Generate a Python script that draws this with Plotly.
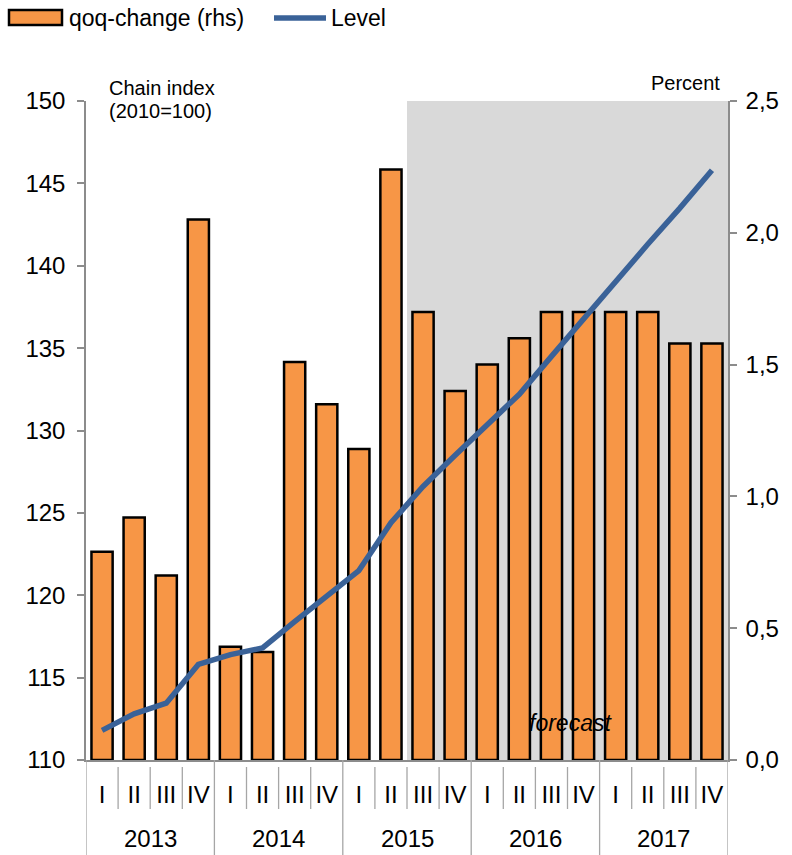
import plotly.graph_objects as go

# ---- data ----
years = ["2013", "2014", "2015", "2016", "2017"]
quarters = ["I", "II", "III", "IV"]
qoq_change = [0.79, 0.92, 0.70, 2.05,
              0.43, 0.41, 1.51, 1.35,
              1.18, 2.24, 1.70, 1.40,
              1.50, 1.60, 1.70, 1.70,
              1.70, 1.70, 1.58, 1.58]
level = [111.8, 112.8, 113.45, 115.8,
         116.4, 116.8, 118.4, 120.0,
         121.5, 124.4, 126.6, 128.5,
         130.3, 132.2, 134.5, 136.8,
         139.0, 141.3, 143.5, 145.8]
forecast_from = ("2015", "III")

level_ticks = [110, 115, 120, 125, 130, 135, 140, 145, 150]
pct_ticks = [0.0, 0.5, 1.0, 1.5, 2.0, 2.5]
pct_labels = ["0,0", "0,5", "1,0", "1,5", "2,0", "2,5"]

# ---- layout constants ----
W, H = 792, 855
L, R, T, B = 86, 64, 101, 95

ORANGE = "#F79646"
BLUE = "#3A6298"
SHADE = "#D9D9D9"
AXIS = "#8C8C8C"
SEP = "#A6A6A6"
FONT = "Liberation Sans, Arial, sans-serif"
NARROW = "Liberation Sans Narrow, Arial Narrow, Liberation Sans, sans-serif"


def px_x(px):
    return (px - L) / (W - L - R)


def px_y(py):
    return (H - B - py) / (H - T - B)


periods = [(y, q) for y in years for q in quarters]
xpos = list(range(len(periods)))
qlabels = [q for _, q in periods]
fc_idx = periods.index(forecast_from)

fig = go.Figure()

fig.add_trace(go.Bar(
    x=xpos, y=qoq_change, name="qoq-change (rhs)",
    marker=dict(color=ORANGE, line=dict(color="black", width=2.5)),
    width=0.66, yaxis="y", showlegend=False,
))
fig.add_trace(go.Scatter(
    x=xpos, y=level, name="Level", mode="lines",
    line=dict(color=BLUE, width=5.5), yaxis="y2", showlegend=False,
))

shapes = []
# forecast shading
shapes.append(dict(type="rect", xref="x", yref="paper",
                   x0=fc_idx - 0.5, x1=len(periods) - 0.5, y0=0, y1=1,
                   fillcolor=SHADE, line=dict(width=0), layer="below"))

# quarter separators and year separators below the axis
n_q = len(quarters)
for i in range(len(periods) + 1):
    xb = i - 0.5
    if i % n_q == 0:
        shapes.append(dict(type="line", xref="x", yref="paper",
                           x0=xb, x1=xb, y0=0, y1=px_y(H),
                           line=dict(color=SEP, width=1.3)))
    else:
        shapes.append(dict(type="line", xref="x", yref="paper",
                           x0=xb, x1=xb, y0=px_y(767), y1=px_y(809),
                           line=dict(color=SEP, width=1.3)))

# legend swatches
shapes.append(dict(type="rect", xref="paper", yref="paper",
                   x0=px_x(9), x1=px_x(62), y0=px_y(10), y1=px_y(25),
                   fillcolor=ORANGE, line=dict(color="black", width=2.5)))
shapes.append(dict(type="line", xref="paper", yref="paper",
                   x0=px_x(274), x1=px_x(326), y0=px_y(18), y1=px_y(18),
                   line=dict(color=BLUE, width=5.5)))

annotations = []
for k, yr in enumerate(years):
    annotations.append(dict(text=yr, xref="x", yref="paper",
                            x=k * n_q + (n_q - 1) / 2, y=px_y(838),
                            xanchor="center", yanchor="middle", showarrow=False,
                            font=dict(family=NARROW, size=24, color="black")))

annotations += [
    dict(text="qoq-change (rhs)", xref="paper", yref="paper",
         x=px_x(67), y=px_y(18), xanchor="left", yanchor="middle",
         showarrow=False, font=dict(family=FONT, size=23, color="black")),
    dict(text="Level", xref="paper", yref="paper",
         x=px_x(329), y=px_y(18), xanchor="left", yanchor="middle",
         showarrow=False, font=dict(family=FONT, size=23, color="black")),
    dict(text="Chain index", xref="paper", yref="paper",
         x=px_x(107), y=px_y(88), xanchor="left", yanchor="middle",
         showarrow=False, font=dict(family=FONT, size=20, color="black")),
    dict(text="(2010=100)", xref="paper", yref="paper",
         x=px_x(107), y=px_y(111), xanchor="left", yanchor="middle",
         showarrow=False, font=dict(family=FONT, size=20, color="black")),
    dict(text="Percent", xref="paper", yref="paper",
         x=px_x(722), y=px_y(83), xanchor="right", yanchor="middle",
         showarrow=False, font=dict(family=FONT, size=20, color="black")),
    dict(text="<i>forecast</i>", xref="paper", yref="paper",
         x=px_x(570), y=px_y(723), xanchor="center", yanchor="middle",
         showarrow=False, font=dict(family=FONT, size=23, color="black")),
]

fig.update_layout(
    width=W, height=H,
    margin=dict(l=L, r=R, t=T, b=B, pad=0),
    paper_bgcolor="white", plot_bgcolor="rgba(0,0,0,0)",
    bargap=0.34,
    font=dict(family=FONT, size=23, color="black"),
    xaxis=dict(
        range=[-0.5, len(periods) - 0.5],
        tickmode="array", tickvals=xpos, ticktext=qlabels,
        ticks="", showgrid=False, zeroline=False,
        showline=True, linecolor=AXIS, linewidth=1.5,
        tickfont=dict(family=NARROW, size=24, color="black"),
        ticklabelstandoff=12,
    ),
    yaxis=dict(
        side="right", range=[0, 2.5],
        tickmode="array", tickvals=pct_ticks, ticktext=pct_labels,
        ticks="outside", ticklen=7, tickwidth=1.5, tickcolor=AXIS,
        showline=True, linecolor=AXIS, linewidth=1.5,
        showgrid=False, zeroline=False,
        tickfont=dict(family=FONT, size=24, color="black"),
        ticklabelstandoff=4,
    ),
    yaxis2=dict(
        side="left", overlaying="y", range=[110, 150],
        tickmode="array", tickvals=level_ticks,
        ticks="outside", ticklen=7, tickwidth=1.5, tickcolor=AXIS,
        showline=True, linecolor=AXIS, linewidth=1.5,
        showgrid=False, zeroline=False,
        tickfont=dict(family=FONT, size=24, color="black"),
        ticklabelstandoff=7,
    ),
    shapes=shapes,
    annotations=annotations,
    showlegend=False,
)

fig.write_html("out.html")
